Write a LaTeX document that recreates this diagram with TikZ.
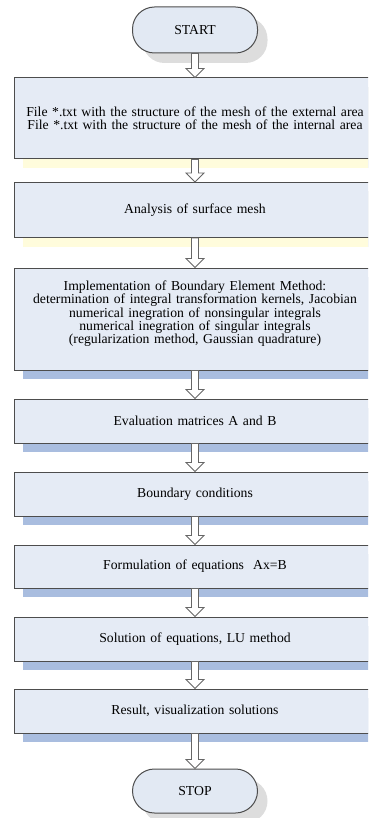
\documentclass[tikz,border=0pt]{standalone}
\usepackage{fontspec}
\setmainfont{Liberation Serif}
\usepackage{tikz}
\usetikzlibrary{positioning,shadows,calc}
\definecolor{boxfill}{HTML}{E5EBF5}
\definecolor{termfill}{HTML}{E2E9F3}
\definecolor{boxline}{HTML}{4D4D4D}
\definecolor{shadowblue}{HTML}{A9BDDF}
\definecolor{shadowyellow}{HTML}{FFFCDC}
\definecolor{shadowgray}{HTML}{DDDDDD}
\newcommand{\hollowArrow}[2]{\draw[arrowline] ($(#1.south)+(-3.5,0)$) -- ($(#2.north)+(-3.5,-9)$)
	-- ($(#2.north)+(-9,-9)$) -- (#2.north) -- ($(#2.north)+(9,-9)$)
	-- ($(#2.north)+(3.5,-9)$) -- ($(#1.south)+(3.5,0)$) -- cycle;}
\begin{document}
\begin{tikzpicture}[x=1pt, y=-1pt,
	every node/.style={font=\fontsize{13.7}{13.3}\selectfont},
	stepbox/.style={draw=boxline, line width=1pt, fill=boxfill, inner sep=0pt,
		minimum width=362pt, text width=350pt, align=center,
		drop shadow={shadow xshift=9pt, shadow yshift=-9pt, opacity=1, fill=shadowblue}},
	paleshadow/.style={drop shadow={shadow xshift=9pt, shadow yshift=-9pt, opacity=1, fill=shadowyellow}},
	terminal/.style={draw=boxline, line width=1pt, fill=termfill, rounded corners=22pt,
		minimum width=125pt, minimum height=46pt, inner sep=0pt,
		drop shadow={shadow xshift=10pt, shadow yshift=-10pt, opacity=1, fill=shadowgray}},
	arrowline/.style={draw=black!60, line width=0.8pt, fill=white}]
	\useasboundingbox (0,0) rectangle (368,818);
	\clip (0,0) rectangle (368,818);
	\node[terminal] (start) at (195,30) {START};
	\node[stepbox, paleshadow, minimum height=81pt] (mesh) at (195,118.5)
		{File *.txt with the structure of the mesh of the external area\\
		File *.txt with the structure of the mesh of the internal area};
	\node[stepbox, paleshadow, minimum height=55pt] (analysis) at (195,210) {Analysis of surface mesh};
	\node[stepbox, minimum height=102pt] (bem) at (195,319)
		{Implementation of Boundary Element Method:\\
		determination of integral transformation kernels, Jacobian\\
		numerical inegration of nonsingular integrals\\
		numerical inegration of singular integrals\\
		(regularization method, Gaussian quadrature)\\ \mbox{}};
	\node[stepbox, minimum height=44pt] (matrices) at (195,421) {Evaluation matrices A and B};
	\node[stepbox, minimum height=44pt] (bc) at (195,494) {Boundary conditions};
	\node[stepbox, minimum height=43pt] (formulation) at (195,566.5) {Formulation of equations\ \ Ax=B};
	\node[stepbox, minimum height=44pt] (solution) at (195,639) {Solution of equations, LU method};
	\node[stepbox, minimum height=44pt] (result) at (195,711) {Result, visualization solutions};
	\node[terminal, minimum height=44pt] (stop) at (195,791) {STOP};

	\hollowArrow{start}{mesh}
	\hollowArrow{mesh}{analysis}
	\hollowArrow{analysis}{bem}
	\hollowArrow{bem}{matrices}
	\hollowArrow{matrices}{bc}
	\hollowArrow{bc}{formulation}
	\hollowArrow{formulation}{solution}
	\hollowArrow{solution}{result}
	\hollowArrow{result}{stop}
\end{tikzpicture}
\end{document}
